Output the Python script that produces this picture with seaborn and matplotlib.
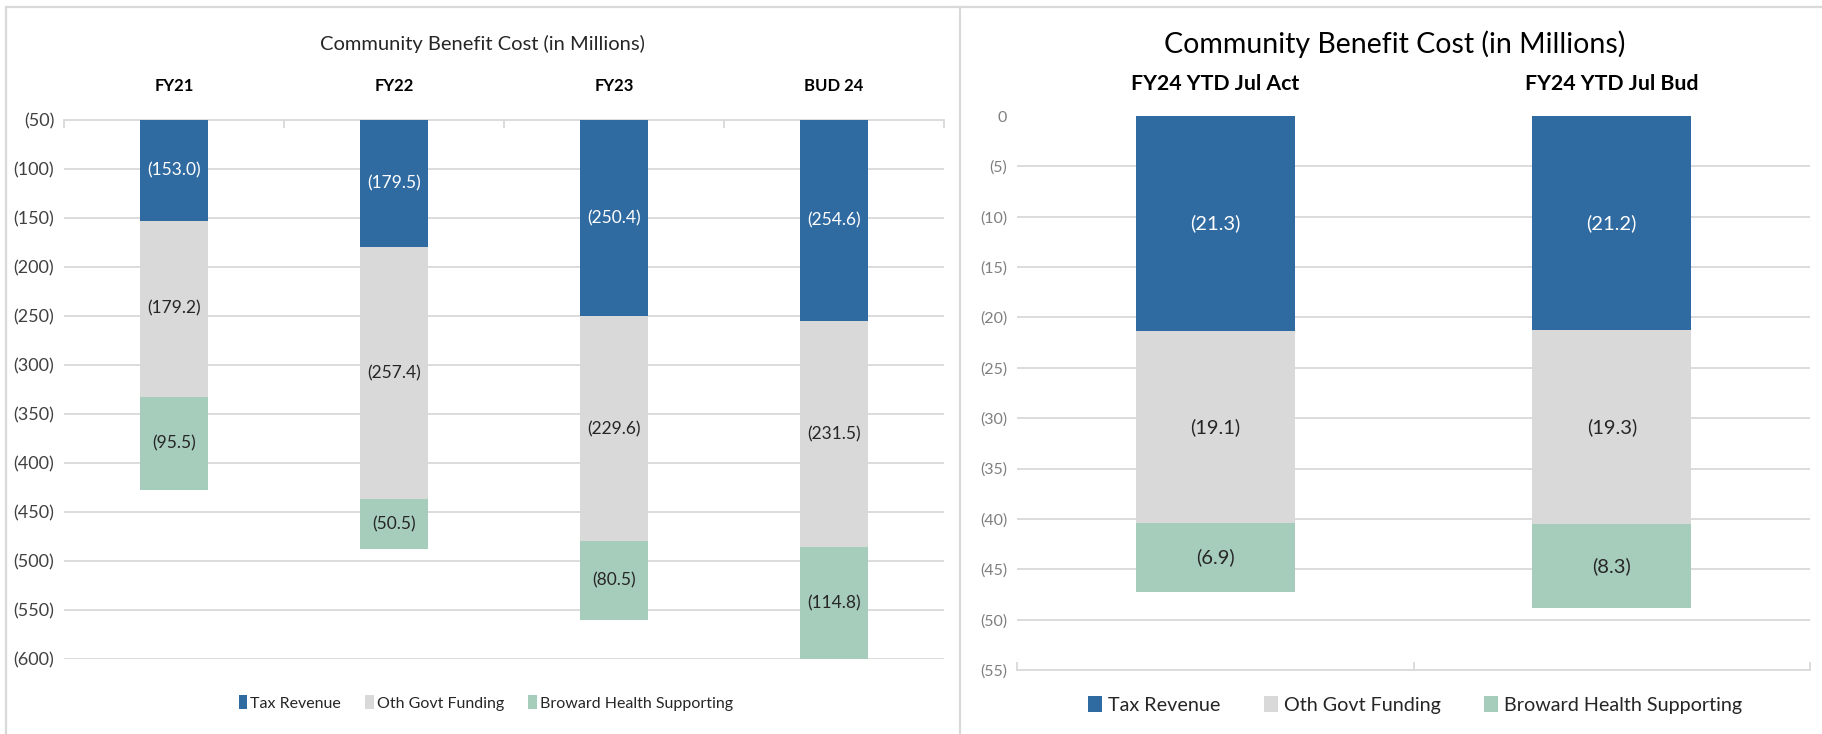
import numpy as np
import pandas as pd
import matplotlib
matplotlib.use("Agg")
import matplotlib.pyplot as plt
from matplotlib import font_manager
from matplotlib.patches import Patch
from matplotlib.lines import Line2D
import seaborn as sns

# ---------------- data ----------------
series_names = ["Tax Revenue", "Oth Govt Funding", "Broward Health Supporting"]

left_categories = ["FY21", "FY22", "FY23", "BUD 24"]
left_tax = [153.0, 179.5, 250.4, 254.6]
left_oth = [179.2, 257.4, 229.6, 231.5]
left_bh = [95.5, 50.5, 80.5, 114.8]

right_categories = ["FY24 YTD Jul Act", "FY24 YTD Jul Bud"]
right_tax = [21.3, 21.2]
right_oth = [19.1, 19.3]
right_bh = [6.9, 8.3]

left_ticks = [-600, -550, -500, -450, -400, -350, -300, -250, -200, -150, -100, -50]
right_ticks = [-55, -50, -45, -40, -35, -30, -25, -20, -15, -10, -5, 0]

title = "Community Benefit Cost (in Millions)"

# ---------------- style ----------------
BLUE = "#2F6AA1"
GRAY = "#D9D9D9"
GREEN = "#A6CCBB"
colors = [BLUE, GRAY, GREEN]
GRID = "#D9D9D9"

sns.set_theme(style="white")
names = {f.name for f in font_manager.fontManager.ttflist}
wide = "Lato" if "Lato" in names else "DejaVu Sans"
narrow = wide
plt.rcParams["font.family"] = [wide, "DejaVu Sans"]

W, H = 1822, 734
fig = plt.figure(figsize=(W / 100, H / 100), dpi=100)

def fx(px):
    return px / W

def fy(py):
    return 1 - py / H

# panel borders
fig.add_artist(Line2D([fx(6), fx(W)], [fy(7), fy(7)], color=GRID, lw=1.6))
fig.add_artist(Line2D([fx(6), fx(6)], [fy(7), fy(H)], color=GRID, lw=1.6))
fig.add_artist(Line2D([fx(960), fx(960)], [fy(7), fy(H)], color=GRID, lw=1.6))


def fmt(v):
    return f"({abs(v):.0f})" if v != 0 else "0"


def draw_panel(ax, cats, tax, oth, bh, ticks, width, font, lab_size, tick_color,
               tick_size, axis_at_top):
    tax = np.array(tax)
    oth = np.array(oth)
    bh = np.array(bh)
    c1 = tax
    c2 = tax + oth
    c3 = tax + oth + bh
    ymin, ymax = ticks[0], ticks[-1]
    # overlap stacking, drawn from total to first segment
    for cum, col in [(c3, GREEN), (c2, GRAY), (c1, BLUE)]:
        df = pd.DataFrame({"cat": cats, "val": -cum})
        sns.barplot(data=df, x="cat", y="val", color=col, saturation=1,
                    width=width, linewidth=0, ax=ax, zorder=3)
    ax.set_ylim(ymin, ymax)
    ax.set_xlim(-0.5, len(cats) - 0.5)
    ax.set_xlabel("")
    ax.set_ylabel("")

    for t in ticks:
        if axis_at_top and t == ymax:
            continue
        if (not axis_at_top) and (t == ymin or t == ymax):
            continue
        ax.axhline(t, color=GRID, lw=1.3, zorder=1)

    ax.set_yticks(ticks)
    ax.set_yticklabels([fmt(t) for t in ticks], fontsize=tick_size,
                       color=tick_color, family=font)
    ax.tick_params(axis="y", length=0, pad=7)

    for s in ["left", "right"]:
        ax.spines[s].set_visible(False)
    if axis_at_top:
        ax.spines["bottom"].set_visible(False)
        ax.spines["top"].set_color(GRID)
        ax.spines["top"].set_linewidth(1.3)
    else:
        ax.spines["top"].set_visible(False)
        ax.spines["bottom"].set_color(GRID)
        ax.spines["bottom"].set_linewidth(1.3)
    ax.spines["top"].set_zorder(1)
    ax.spines["bottom"].set_zorder(1)

    starts = [np.zeros_like(c1), c1, c2]
    ends = [c1, c2, c3]
    vals = [tax, oth, bh]
    for k in range(3):
        for i in range(len(cats)):
            top = min(-starts[k][i], ymax)
            bot = max(-ends[k][i], ymin)
            yc = (top + bot) / 2
            ax.text(i, yc, f"({vals[k][i]:.1f})", ha="center", va="center",
                    fontsize=lab_size, family=font,
                    color="white" if k == 0 else "#262626", zorder=5)


# ---------------- left panel ----------------
axL = fig.add_axes([fx(64), fy(659), fx(944) - fx(64), fy(120) - fy(659)])
draw_panel(axL, left_categories, left_tax, left_oth, left_bh, left_ticks,
           0.305, narrow, 12.5, "#404040", 13, axis_at_top=True)
axL.set_xticks(range(len(left_categories)))
axL.set_xticklabels(left_categories, fontsize=12, fontweight="bold",
                    family=narrow, color="black")
axL.set_xticks(np.arange(-0.5, len(left_categories)), minor=True)
axL.tick_params(axis="x", which="major", length=0, top=False, bottom=False,
                labeltop=True, labelbottom=False, pad=19)
axL.tick_params(axis="x", which="minor", top=True, bottom=False, direction="in",
                length=6, color=GRID, width=1.3)

fig.text(fx(482), fy(44), title, ha="center", va="center", fontsize=14.5,
         family=narrow, color="#262626")

handlesL = [Patch(facecolor=c, edgecolor="none") for c in colors]
fig.legend(handlesL, series_names, loc="center", bbox_to_anchor=(fx(486), fy(703)),
           ncol=3, frameon=False, handlelength=0.55, handleheight=0.9,
           handletextpad=0.2, columnspacing=1.5,
           prop={"family": narrow, "size": 11.5})

# ---------------- right panel ----------------
axR = fig.add_axes([fx(1017), fy(670), fx(1810) - fx(1017), fy(116) - fy(670)])
draw_panel(axR, right_categories, right_tax, right_oth, right_bh, right_ticks,
           0.40, wide, 14.5, "#7F7F7F", 11.5, axis_at_top=False)
axR.set_xticks(range(len(right_categories)))
axR.set_xticklabels(right_categories, fontsize=15.3, fontweight="bold",
                    family=wide, color="black")
axR.set_xticks(np.arange(-0.5, len(right_categories)), minor=True)
axR.tick_params(axis="x", which="major", length=0, top=False, bottom=False,
                labeltop=True, labelbottom=False, pad=16)
axR.tick_params(axis="x", which="minor", top=False, bottom=True, direction="in",
                length=6, color=GRID, width=1.3)

fig.text(fx(1395), fy(44), title, ha="center", va="center", fontsize=20.5,
         family=wide, color="black")

handlesR = [Patch(facecolor=c, edgecolor="none") for c in colors]
fig.legend(handlesR, series_names, loc="center", bbox_to_anchor=(fx(1415), fy(705)),
           ncol=3, frameon=False, handlelength=0.7, handleheight=0.9,
           handletextpad=0.3, columnspacing=2.2,
           prop={"family": wide, "size": 14.2})

fig.savefig("out.png", dpi=100)
